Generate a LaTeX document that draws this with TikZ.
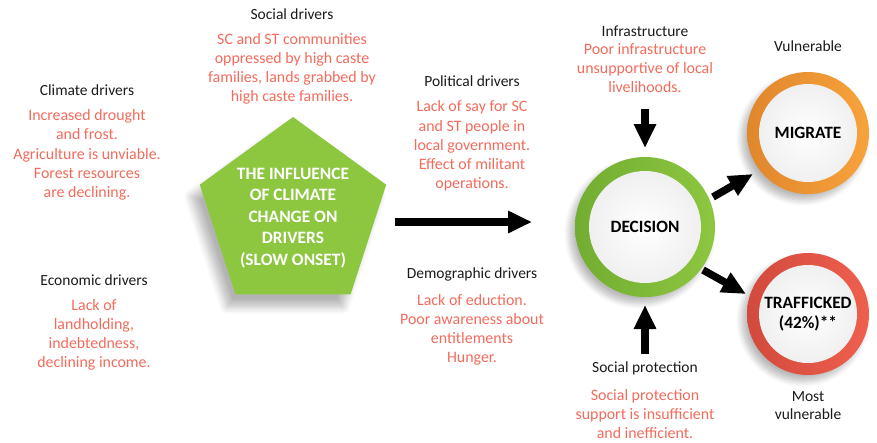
\documentclass[tikz,border=0pt]{standalone}
\usepackage{fontspec}
\setmainfont{Carlito}
\usetikzlibrary{shapes.geometric,arrows.meta,shadows.blur,calc}
\definecolor{grn}{HTML}{8DC63F}
\definecolor{grnD}{HTML}{72AD32}
\definecolor{org}{HTML}{F7A33C}
\definecolor{orgD}{HTML}{E0862C}
\definecolor{rd}{HTML}{EF5F4E}
\definecolor{rdD}{HTML}{D14A3D}
\definecolor{salmon}{HTML}{F26B5C}
\definecolor{hdrc}{HTML}{1A1A1A}
\begin{document}
\begin{tikzpicture}[x=1pt,y=-1pt,
  hdr/.style={font=\fontsize{15.5}{18}\selectfont, text=hdrc, inner sep=0pt, align=center},
  body/.style={font=\fontsize{15.9}{19.2}\selectfont, text=salmon, align=center, inner sep=0pt},
  bigarrow/.style={line width=7.5pt, black, -{Triangle[width=21pt,length=24pt]}},
  shd/.style={blur shadow={shadow xshift=-5pt, shadow yshift=-6pt, shadow blur steps=10, shadow opacity=28, shadow blur radius=6pt}},
  ring/.style={circle, inner sep=0pt, shd},
  core/.style={circle, inner sep=0pt, inner color=white, outer color=black!6, font=\bfseries\fontsize{17.3}{20}\selectfont, text=black, align=center},
]
\useasboundingbox (0,0) rectangle (877,442);

% pentagon
\node[regular polygon, regular polygon sides=5, minimum size=196pt, inner sep=0pt, fill=grn,
  blur shadow={shadow xshift=-8pt, shadow yshift=-12pt, shadow blur steps=10, shadow opacity=30, shadow blur radius=8pt}] (pent) at (293,215) {};
\node[font=\bfseries\fontsize{17.4}{21.5}\selectfont, text=white, align=center, inner sep=0pt] (penttxt) at (293,218)
  {THE INFLUENCE\\OF CLIMATE\\CHANGE ON\\DRIVERS\\(SLOW ONSET)};

% circles
\node[ring, minimum size=140pt, left color=grnD, right color=grn] (decision) at (645,227) {};
\node[core, minimum size=112pt] (decisiontxt) at (decision) {DECISION};
\node[ring, minimum size=122pt, left color=orgD, right color=org] (migrate) at (808,133) {};
\node[core, minimum size=98pt] (migratetxt) at (migrate) {MIGRATE};
\node[ring, minimum size=122pt, left color=rdD, right color=rd] (traff) at (808,314) {};
\node[core, minimum size=98pt] (trafftxt) at (traff) {TRAFFICKED\\(42\%)**};

% arrows
\draw[bigarrow] ([shift={(102,7)}]pent.center) -- ([shift={(-113,-5)}]decision.center);
\draw[bigarrow] ([shift={(0,-118)}]decision.center) -- ([shift={(0,-79)}]decision.center);
\draw[bigarrow] ([shift={(0,127)}]decision.center) -- ([shift={(0,78)}]decision.center);
\draw[bigarrow] ([shift={(68,-30)}]decision.center) -- ([shift={(-55,41)}]migrate.center);
\draw[bigarrow] ([shift={(58,43)}]decision.center) -- ([shift={(-62,-20)}]traff.center);

% texts
\node[hdr] (climh) at (87,90) {Climate drivers};
\node[body] (climb) at (87,155) {Increased drought\\and frost.\\Agriculture is unviable.\\Forest resources\\are declining.};
\node[hdr] (soch) at (292,14) {Social drivers};
\node[body] (socb) at (292,69) {SC and ST communities\\oppressed by high caste\\families, lands grabbed by\\high caste families.};
\node[hdr] (ecoh) at (94,280) {Economic drivers};
\node[body] (ecob) at (94,335) {Lack of\\landholding,\\indebtedness,\\declining income.};
\node[hdr] (polh) at (472,81) {Political drivers};
\node[body] (polb) at (472,146) {Lack of say for SC\\and ST people in\\local government.\\Effect of militant\\operations.};
\node[hdr] (demh) at (472,274) {Demographic drivers};
\node[body] (demb) at (472,330) {Lack of eduction.\\Poor awareness about\\entitlements\\Hunger.};
\node[hdr] (infh) at (645,31) {Infrastructure};
\node[body] (infb) at (645,68) {Poor infrastructure\\unsupportive of local\\livelihoods.};
\node[hdr] (sph) at (645,368) {Social protection};
\node[body] (spb) at (645,414) {Social protection\\support is insufficient\\and inefficient.};
\node[hdr] (vulh) at (808,46) {Vulnerable};
\node[hdr, font=\fontsize{15.5}{18}\selectfont] (mvul) at (808,406) {Most\\vulnerable};
\end{tikzpicture}
\end{document}
